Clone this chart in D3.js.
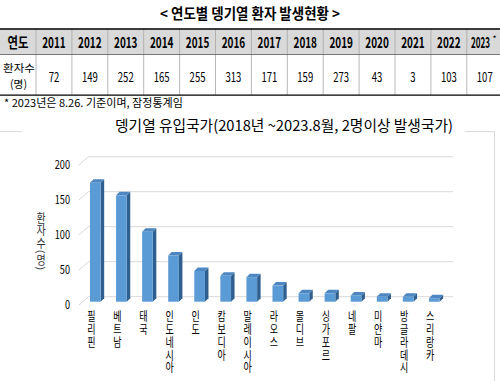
<!DOCTYPE html>
<html><head><meta charset="utf-8">
<script src="https://cdn.jsdelivr.net/npm/d3@7"></script>
<style>
html,body{margin:0;padding:0;background:#fff;}
svg{display:block;font-family:"Malgun Gothic","Noto Sans CJK KR",sans-serif;}
</style></head>
<body>
<svg id="c" width="500" height="381"></svg>
<script>
const tableTitle = "< 연도별 뎅기열 환자 발생현황 >";
const years = ["2011","2012","2013","2014","2015","2016","2017","2018","2019","2020","2021","2022","2023"];
const patients = [72,149,252,165,255,313,171,159,273,43,3,103,107];
const note = "* 2023년은 8.26. 기준이며, 잠정통계임";
const chartTitle = "뎅기열 유입국가(2018년 ~2023.8월, 2명이상 발생국가)";
const countries = ["필리핀","베트남","태국","인도네시아","인도","캄보디아","말레이시아","라오스","몰디브","싱가포르","네팔","미얀마","방글라데시","스리랑카"];
const cases = [170,152,100,66,44,37,35,23,12,12,9,7,7,5];
const yTicks = [0,50,100,150,200];
const yTitle = "환자수(명)";

const svg = d3.select("#c");

// text squeezed horizontally to a target width (via transform so its box is true)
function txt(g, s, x, y, size, weight, width, anchor, fill){
  const t = g.append("text").attr("x", 0).attr("y", 0)
    .attr("font-size", size).attr("font-weight", weight || "normal")
    .attr("text-anchor", anchor || "middle").attr("fill", fill || "#000").text(s);
  let sx = 1;
  if (width) { const n = t.node().getComputedTextLength(); if (n > 0) sx = width / n; }
  t.attr("transform", `translate(${x},${y}) scale(${sx},1)`);
  return t;
}

// ---- Title
txt(svg, tableTitle, 250, 19, 14.5, "bold", 180);

// ---- Table
const colX = d3.scaleBand().domain(years).range([36, 36 + 35.9 * years.length]);
const tg = svg.append("g");
tg.append("rect").attr("x", 0).attr("y", 29).attr("width", 500).attr("height", 25.5).attr("fill", "#d9d9d9");
years.forEach((yv, i) => {
  tg.append("line").attr("x1", colX(yv)).attr("x2", colX(yv)).attr("y1", 29).attr("y2", 95)
    .attr("stroke", "#a6a6a6").attr("stroke-width", 0.8);
});
tg.append("line").attr("x1", 0).attr("x2", 500).attr("y1", 29).attr("y2", 29).attr("stroke", "#000").attr("stroke-width", 1.4);
tg.append("line").attr("x1", 0).attr("x2", 500).attr("y1", 54.5).attr("y2", 54.5).attr("stroke", "#595959").attr("stroke-width", 0.8);
tg.append("line").attr("x1", 0).attr("x2", 500).attr("y1", 95.2).attr("y2", 95.2).attr("stroke", "#000").attr("stroke-width", 1.3);

txt(tg, "연도", 18, 47.5, 15, "bold", 21);
txt(tg, "환자수", 19, 72.3, 10.8, "normal", 32);
txt(tg, "(명)", 18.5, 87.8, 10.8, "normal", 17);
years.forEach((yv, i) => {
  const cx = colX(yv) + colX.bandwidth() / 2;
  const last = i === years.length - 1;
  if (last) {
    txt(tg, yv, 480.5, 47.5, 15, "bold", 19);
    txt(tg, "*", 494.5, 41, 7, "bold", null, "middle");
  } else {
    txt(tg, yv, cx, 47.5, 15, "bold", 23.5);
  }
  const s = String(patients[i]);
  txt(tg, s, cx, 81.5, 13, "normal", s.length * 5.3);
});

// ---- Note
txt(svg, note, 4, 107, 11, "normal", 179, "start");

// ---- Chart box
const box = svg.append("g").attr("stroke", "#d9d9d9").attr("stroke-width", 1).attr("fill", "none");
box.append("line").attr("x1", 0).attr("x2", 22).attr("y1", 131.5).attr("y2", 131.5);
box.append("line").attr("x1", 465).attr("x2", 494.5).attr("y1", 131.5).attr("y2", 131.5);
box.append("line").attr("x1", 494.5).attr("x2", 494.5).attr("y1", 131.5).attr("y2", 381);

txt(svg, chartTitle, 284, 131, 15, "normal", 338);

// ---- Scales
const x = d3.scaleBand().domain(countries).range([82.3, 447.3]).paddingInner(0.59).paddingOuter(0.295);
const y = d3.scaleLinear().domain([0, 200]).range([301.7, 161.7]);
const backShift = -5, labShift = 3.3;
const gx0 = 79, gx1 = 88.5, gx2 = 453;

const grid = svg.append("g").attr("stroke", "#d9d9d9").attr("stroke-width", 1).attr("fill", "none");
yTicks.forEach(v => {
  grid.append("path").attr("d",
    `M${gx0},${y(v) + labShift}L${gx1},${y(v) + backShift}L${gx2},${y(v) + backShift}`);
});
yTicks.forEach(v => {
  const s = String(v);
  txt(svg, s, 70, y(v) + labShift + 4, 11.5, "normal", s.length * 5.1, "end", "#000");
});

svg.append("text").attr("transform", "translate(41,212) scale(0.8,1)")
  .style("writing-mode", "vertical-rl").attr("font-size", 12.5).attr("fill", "#333")
  .text(yTitle);

// ---- 3D bars
const dx = 3.5, dy = -3.5;
const bars = svg.append("g");
countries.forEach((c, i) => {
  const x0 = x(c), w = x.bandwidth(), yt = y(cases[i]), yb = y(0);
  bars.append("path").attr("d", `M${x0 + w},${yt}L${x0 + w + dx},${yt + dy}L${x0 + w + dx},${yb + dy}L${x0 + w},${yb}Z`)
    .attr("fill", "#2f5f8f");
  bars.append("path").attr("d", `M${x0},${yt}L${x0 + dx},${yt + dy}L${x0 + w + dx},${yt + dy}L${x0 + w},${yt}Z`)
    .attr("fill", "#4d86c0");
  bars.append("rect").attr("x", x0).attr("y", yt).attr("width", w).attr("height", yb - yt)
    .attr("fill", "#5b9bd5");
});

// ---- category labels (vertical, upright chars)
countries.forEach(c => {
  const cx = x(c) + x.bandwidth() / 2 - 4;
  svg.append("text").attr("transform", `translate(${cx},310.5) scale(0.72,1)`)
    .style("writing-mode", "vertical-rl").style("text-orientation", "upright")
    .style("letter-spacing", "0.2px")
    .attr("font-size", 12.5).attr("fill", "#000").text(c);
});
</script>
</body></html>
